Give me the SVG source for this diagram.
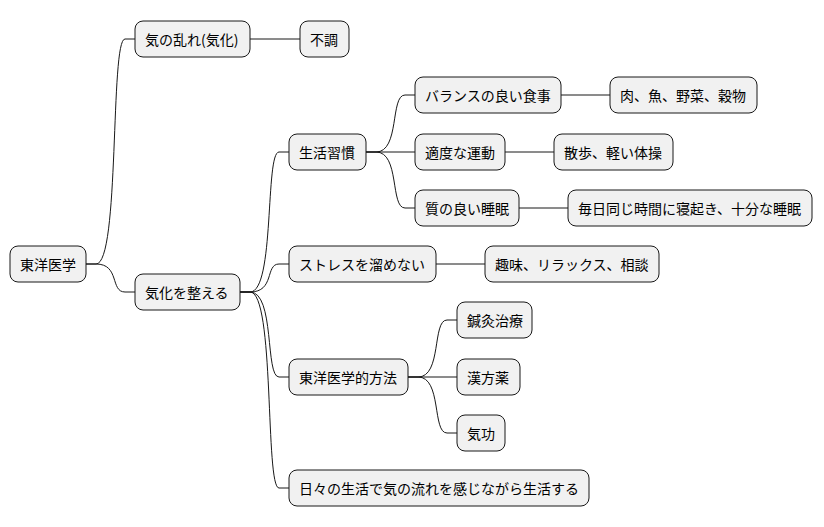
<svg xmlns="http://www.w3.org/2000/svg" width="824" height="527" viewBox="0 0 824 527">
<style>
.n{fill:#F1F1F1;stroke:#181818;stroke-width:1}
text{font-family:"Noto Sans CJK JP","Liberation Sans",sans-serif;font-size:14px;fill:#000;dominant-baseline:central}
#c path{fill:none;stroke:#181818;stroke-width:1}
</style>
<rect width="824" height="527" fill="#ffffff"/>
<g id="c">
<path d="M86,264 L96,264 C120,264 110,39 125,39 L135,39"/>
<path d="M86,264 L96,264 C120,264 110,292 125,292 L135,292"/>
<path d="M250,39 L300,39"/>
<path d="M240,292 L250,292 C275,292 265,152 279,152 L289,152"/>
<path d="M240,292 L250,292 C275,292 265,264 279,264 L289,264"/>
<path d="M240,292 L250,292 C275,292 265,377 279,377 L289,377"/>
<path d="M240,292 L250,292 C275,292 265,488 279,488 L289,488"/>
<path d="M366,152 L376,152 C400,152 390,95 405,95 L415,95"/>
<path d="M366,152 L415,152"/>
<path d="M366,152 L376,152 C400,152 390,208 405,208 L415,208"/>
<path d="M561,95 L610,95"/>
<path d="M505,152 L554,152"/>
<path d="M519,208 L568,208"/>
<path d="M436,264 L485,264"/>
<path d="M408,377 L418,377 C442,377 432,320 447,320 L457,320"/>
<path d="M408,377 L457,377"/>
<path d="M408,377 L418,377 C442,377 432,433 447,433 L457,433"/>
</g>
<g id="n1"><rect class="n" x="10" y="246" width="76" height="36" rx="8"/><text x="20" y="264">東洋医学</text></g>
<g id="n2"><rect class="n" x="135" y="21" width="115" height="36" rx="8"/><text x="145" y="39">気の乱れ(気化)</text></g>
<g id="n3"><rect class="n" x="300" y="21" width="49" height="36" rx="8"/><text x="310" y="39">不調</text></g>
<g id="n4"><rect class="n" x="135" y="274" width="105" height="36" rx="8"/><text x="145" y="292">気化を整える</text></g>
<g id="n5"><rect class="n" x="289" y="134" width="77" height="36" rx="8"/><text x="299" y="152">生活習慣</text></g>
<g id="n6"><rect class="n" x="415" y="77" width="146" height="36" rx="8"/><text x="425" y="95">バランスの良い食事</text></g>
<g id="n7"><rect class="n" x="610" y="77" width="147" height="36" rx="8"/><text x="620" y="95">肉、魚、野菜、穀物</text></g>
<g id="n8"><rect class="n" x="415" y="134" width="90" height="36" rx="8"/><text x="425" y="152">適度な運動</text></g>
<g id="n9"><rect class="n" x="554" y="134" width="119" height="36" rx="8"/><text x="564" y="152">散歩、軽い体操</text></g>
<g id="n10"><rect class="n" x="415" y="190" width="104" height="36" rx="8"/><text x="425" y="208">質の良い睡眠</text></g>
<g id="n11"><rect class="n" x="568" y="190" width="244" height="36" rx="8"/><text x="578" y="208">毎日同じ時間に寝起き、十分な睡眠</text></g>
<g id="n12"><rect class="n" x="289" y="246" width="147" height="36" rx="8"/><text x="299" y="264">ストレスを溜めない</text></g>
<g id="n13"><rect class="n" x="485" y="246" width="174" height="36" rx="8"/><text x="495" y="264">趣味、リラックス、相談</text></g>
<g id="n14"><rect class="n" x="289" y="359" width="119" height="36" rx="8"/><text x="299" y="377">東洋医学的方法</text></g>
<g id="n15"><rect class="n" x="457" y="302" width="75" height="36" rx="8"/><text x="467" y="320">鍼灸治療</text></g>
<g id="n16"><rect class="n" x="457" y="359" width="63" height="36" rx="8"/><text x="467" y="377">漢方薬</text></g>
<g id="n17"><rect class="n" x="457" y="415" width="48" height="36" rx="8"/><text x="467" y="433">気功</text></g>
<g id="n18"><rect class="n" x="289" y="470" width="300" height="36" rx="8"/><text x="299" y="488">日々の生活で気の流れを感じながら生活する</text></g>
</svg>
